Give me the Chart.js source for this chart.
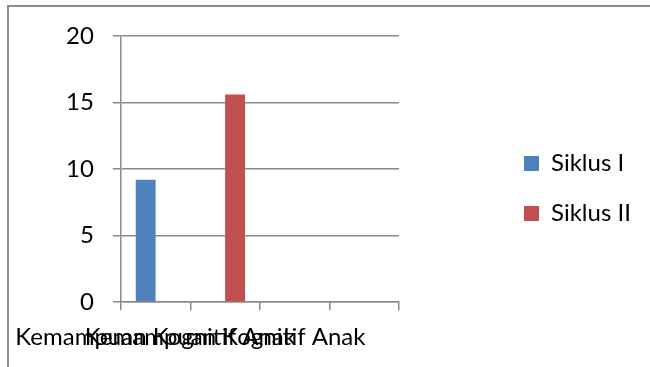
<!DOCTYPE html>
<html>
<head>
<meta charset="utf-8">
<script src="https://cdn.jsdelivr.net/npm/chart.js@4.4.1/dist/chart.umd.min.js"></script>
<style>
  html, body { margin: 0; padding: 0; background: #fff; }
  #wrap { position: relative; width: 650px; height: 367px; }
</style>
</head>
<body>
<div id="wrap"><canvas id="chart" width="650" height="367"></canvas></div>
<script>
(function () {
  'use strict';

  // categories on the x axis (Excel left two of them blank)
  var categories = ['Kemampuan Kognitif Anak', 'Kemampuan Kognitif Anak', '', ''];

  // series values
  var siklusI  = [9.2, null, null, null];
  var siklusII = [null, 15.6, null, null];

  // y ticks
  var yTicks = [0, 5, 10, 15, 20];

  var FONT   = 'Lato, "Liberation Sans", sans-serif';
  var GRID   = '#8a8a8a';
  var BLUE   = '#4F81BD';
  var RED    = '#C0504D';

  // outer frame + white background
  var framePlugin = {
    id: 'frame',
    beforeDraw: function (chart) {
      var ctx = chart.ctx;
      ctx.save();
      ctx.fillStyle = '#fff';
      ctx.fillRect(0, 0, chart.width, chart.height);
      ctx.fillStyle = '#8c8c8c';
      ctx.fillRect(7, 5, chart.width - 7, 2);
      ctx.fillRect(7, 5, 2, chart.height - 5);
      ctx.restore();
    }
  };

  // move the legend out to the right of the plot, like the Excel layout
  var legendSpot = {
    id: 'legendSpot',
    afterLayout: function (chart) {
      var lg = chart.legend;
      if (!lg) return;
      var w = lg.width, h = lg.height;
      lg.left = 498;
      lg.right = lg.left + w;
      lg.top = 188.5 - h / 2;
      lg.bottom = lg.top + h;
    }
  };

  new Chart(document.getElementById('chart'), {
    type: 'bar',
    data: {
      labels: categories,
      datasets: [
        { label: 'Siklus I',  data: siklusI,  backgroundColor: BLUE, borderWidth: 0 },
        { label: 'Siklus II', data: siklusII, backgroundColor: RED,  borderWidth: 0 }
      ]
    },
    options: {
      responsive: false,
      animation: false,
      events: [],
      layout: { padding: { top: 36, left: 47, right: 251, bottom: 2 } },
      datasets: {
        bar: { categoryPercentage: 2 / 3.5, barPercentage: 1 }
      },
      plugins: {
        tooltip: { enabled: false },
        legend: {
          position: 'chartArea',
          labels: {
            font: { family: FONT, size: 24 },
            color: '#000',
            boxWidth: 15,
            boxHeight: 15,
            padding: 26
          }
        }
      },
      scales: {
        x: {
          offset: true,
          // labels overlap and spill past the plot, as in the original: don't let them squeeze it
          afterFit: function (scale) {
            scale.paddingLeft = 0;
            scale.paddingRight = 0;
          },
          grid: { offset: true, drawOnChartArea: false, drawTicks: true, tickLength: 8, color: GRID, lineWidth: 1.5 },
          border: { display: true, color: GRID, width: 1.5 },
          ticks: {
            font: { family: FONT, size: 24 },
            color: '#000',
            maxRotation: 0,
            minRotation: 0,
            autoSkip: false,
            padding: 13
          }
        },
        y: {
          min: yTicks[0],
          max: yTicks[yTicks.length - 1],
          afterBuildTicks: function (scale) {
            scale.ticks = yTicks.map(function (v) { return { value: v }; });
          },
          grid: { color: GRID, lineWidth: 1.5, tickLength: 8 },
          border: { display: true, color: GRID, width: 1.5 },
          ticks: {
            font: { family: FONT, size: 24 },
            color: '#000',
            padding: 19
          }
        }
      }
    },
    plugins: [framePlugin, legendSpot]
  });
})();
</script>
</body>
</html>
